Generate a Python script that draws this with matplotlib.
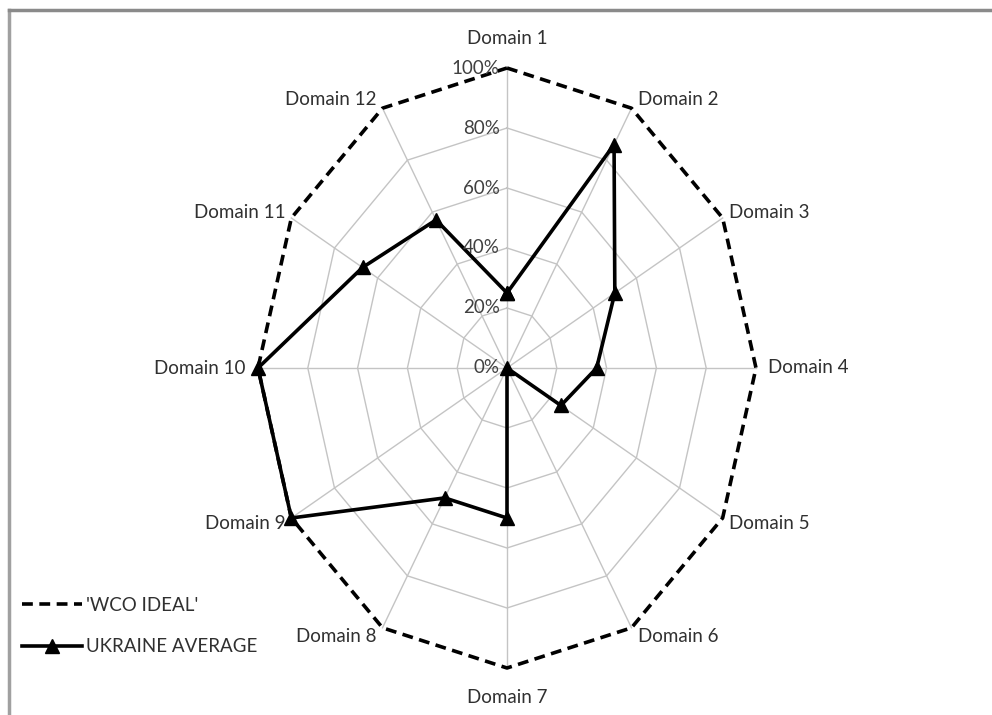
import numpy as np
import matplotlib.pyplot as plt
from matplotlib.lines import Line2D

domains = ['Domain 1', 'Domain 2', 'Domain 3', 'Domain 4', 'Domain 5', 'Domain 6',
           'Domain 7', 'Domain 8', 'Domain 9', 'Domain 10', 'Domain 11', 'Domain 12']
wco_ideal = [1.0, 1.0, 1.0, 1.0, 1.0, 1.0, 1.0, 1.0, 1.0, 1.0, 1.0, 1.0]
ukraine_avg = [0.25, 0.86, 0.50, 0.36, 0.25, 0.0, 0.50, 0.50, 1.0, 1.0, 0.67, 0.57]
tick_vals = [0, 0.2, 0.4, 0.6, 0.8, 1.0]
tick_labels = ['0%', '20%', '40%', '60%', '80%', '100%']

plt.rcParams['font.family'] = ['Lato', 'DejaVu Sans']

fig = plt.figure(figsize=(9.92, 7.15), dpi=100)
ax = fig.add_axes([0, 0, 1, 1])
# pixel mapping: centre (507,368), x radius 249, y radius 300
ax.set_xlim(-507 / 249, (992 - 507) / 249)
ax.set_ylim((368 - 715) / 300, 368 / 300)
ax.axis('off')

n = len(domains)
ang = np.arange(n) * 2 * np.pi / n


def xy(r):
    r = np.asarray(r, dtype=float)
    return r * np.sin(ang), r * np.cos(ang)


# grid polygons every 20%
for lev in tick_vals[1:-1]:
    gx, gy = xy([lev] * n)
    ax.plot(np.append(gx, gx[0]), np.append(gy, gy[0]), color='#c4c4c4', lw=1.0, zorder=1)
# spokes
for a in ang:
    ax.plot([0, np.sin(a)], [0, np.cos(a)], color='#c4c4c4', lw=1.0, zorder=1)

# series
wx, wy = xy(wco_ideal)
ax.plot(np.append(wx, wx[0]), np.append(wy, wy[0]), color='black', lw=2.6,
        ls=(0, (3, 1.8)), zorder=3)
ux, uy = xy(ukraine_avg)
ax.plot(np.append(ux, ux[0]), np.append(uy, uy[0]), color='black', lw=2.6,
        marker='^', ms=10, zorder=4)

# radial tick labels
for v, t in zip(tick_vals, tick_labels):
    ax.text(-0.03, v, t, ha='right', va='center', fontsize=13.5, color='#404040', zorder=5)

# domain labels
for i, name in enumerate(domains):
    a = ang[i]
    s, c = np.sin(a), np.cos(a)
    if i == 0:
        ax.text(0, 1.07, name, ha='center', va='bottom', fontsize=13.5, color='#303030')
        continue
    if i == 6:
        ax.text(0, -1.07, name, ha='center', va='top', fontsize=13.5, color='#303030')
        continue
    off = 0.05 if abs(c) < 0.01 else 0.025
    lx = s + (off if s > 0 else -off)
    ly = 1.035 * c
    ax.text(lx, ly, name, ha='left' if s > 0 else 'right', va='center',
            fontsize=13.5, color='#303030')

# legend
h1 = Line2D([], [], color='black', lw=2.6, ls=(0, (3, 1.8)))
h2 = Line2D([], [], color='black', lw=2.6, marker='^', ms=10)
leg = ax.legend([h1, h2], ["'WCO IDEAL'", 'UKRAINE AVERAGE'], loc='lower left',
                bbox_to_anchor=(0.005, 0.06), frameon=False, fontsize=13.5,
                handlelength=3.2, handletextpad=0.2, labelspacing=1.3)
for t in leg.get_texts():
    t.set_color('#303030')

# chart frame (left and top edges)
fig.add_artist(Line2D([9 / 992, 9 / 992], [0, 1 - 10 / 715], color='#a0a0a0', lw=2.5))
fig.add_artist(Line2D([9 / 992, 1], [1 - 10 / 715, 1 - 10 / 715], color='#8a8a8a', lw=2.5))

fig.savefig('out.png', dpi=100)
